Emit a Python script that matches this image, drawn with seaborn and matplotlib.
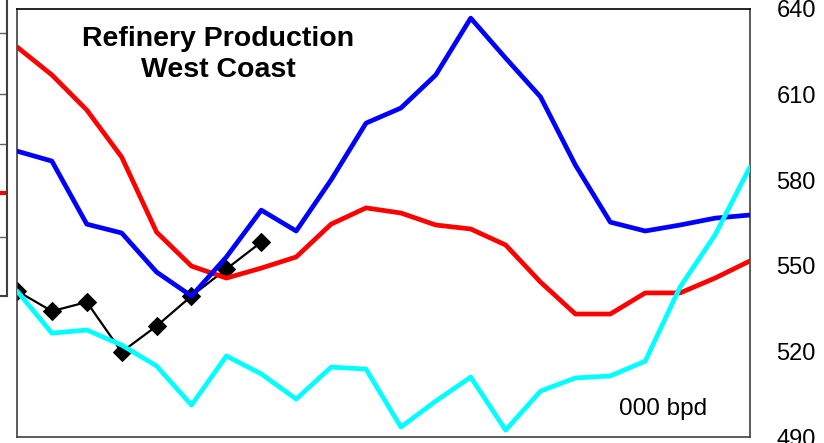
import numpy as np
import pandas as pd
import matplotlib
matplotlib.use("Agg")
import matplotlib.pyplot as plt
import seaborn as sns

# weekly refinery production, West Coast (000 bpd)
weeks = list(range(22))
red_vals = [626.7, 616.9, 604.6, 588.1, 561.8, 549.9, 545.7, 549.2, 553.1, 564.6, 570.3,
            568.5, 564.3, 562.9, 557.3, 544.3, 533.1, 533.1, 540.5, 540.5, 545.7, 551.7]
blue_vals = [590.2, 586.7, 564.6, 561.5, 547.8, 539.4, 553.1, 569.5, 562.2, 580.1, 600.0,
             605.3, 616.9, 636.8, 622.8, 609.2, 585.3, 565.3, 562.2, 564.3, 566.7, 567.8]
cyan_vals = [541.2, 526.4, 527.5, 522.2, 514.9, 501.2, 518.4, 512.1, 503.3, 514.5, 513.8,
             493.5, 502.6, 511.0, 492.4, 506.1, 510.7, 511.4, 516.6, 542.6, 560.8, 584.6]
black_vals = [541.2, 534.1, 537.3, 519.8, 528.9, 539.4, 548.9, 558.3]
yticks = [490, 520, 550, 580, 610, 640]

sns.set_theme(style="white")
plt.rcParams["font.family"] = ["Liberation Sans", "DejaVu Sans"]
plt.rcParams["text.color"] = "black"

fig = plt.figure(figsize=(8.24, 4.43), dpi=100)
ax = fig.add_axes([0.0206, 0.0135, 0.8895, 0.9662])

sns.lineplot(x=weeks[:len(black_vals)], y=black_vals, ax=ax, color="black", lw=1.6,
             marker="D", markersize=9, markeredgecolor="black", zorder=2)
sns.lineplot(x=weeks, y=red_vals, ax=ax, color="#ff0000", lw=3.4, zorder=3)
sns.lineplot(x=weeks, y=blue_vals, ax=ax, color="#0000ff", lw=3.4, zorder=4)
sns.lineplot(x=weeks, y=cyan_vals, ax=ax, color="#00ffff", lw=3.4, zorder=5)

ax.set_xlim(0, 21)
ax.set_ylim(490, 640)
ax.set_xticks([])
ax.yaxis.tick_right()
ax.set_yticks(yticks)
ax.tick_params(axis="y", length=0, pad=19, labelsize=17, labelcolor="black")
ax.set_xlabel("")
ax.set_ylabel("")
for side, sp in ax.spines.items():
    sp.set_visible(True)
    sp.set_linewidth(1.2)
    sp.set_color("#404040" if side in ("left", "bottom", "right") else "black")

ax.text(0.275, 0.96, "Refinery Production\nWest Coast", transform=ax.transAxes,
        ha="center", va="top", fontsize=20.5, fontweight="bold", linespacing=1.25,
        color="black")
ax.text(0.822, 0.065, "000 bpd", transform=ax.transAxes, ha="left", va="center",
        fontsize=17.5, color="black")

# fragment of the neighbouring chart at the left edge
frag = fig.add_axes([0.0, 0.332, 0.0085, 0.668])
frag.set_xlim(0, 1)
frag.set_ylim(296, 0)
for gy in [33, 94, 144, 193, 237]:
    frag.axhline(gy, color="#606060", lw=1)
frag.plot([0, 1], [193, 193], color="#ff0000", lw=3)
frag.set_xticks([])
frag.set_yticks([])
for side, sp in frag.spines.items():
    sp.set_visible(side in ("right", "bottom"))
    sp.set_color("#404040")
    sp.set_linewidth(1.5)

fig.savefig("out.png", dpi=100)
